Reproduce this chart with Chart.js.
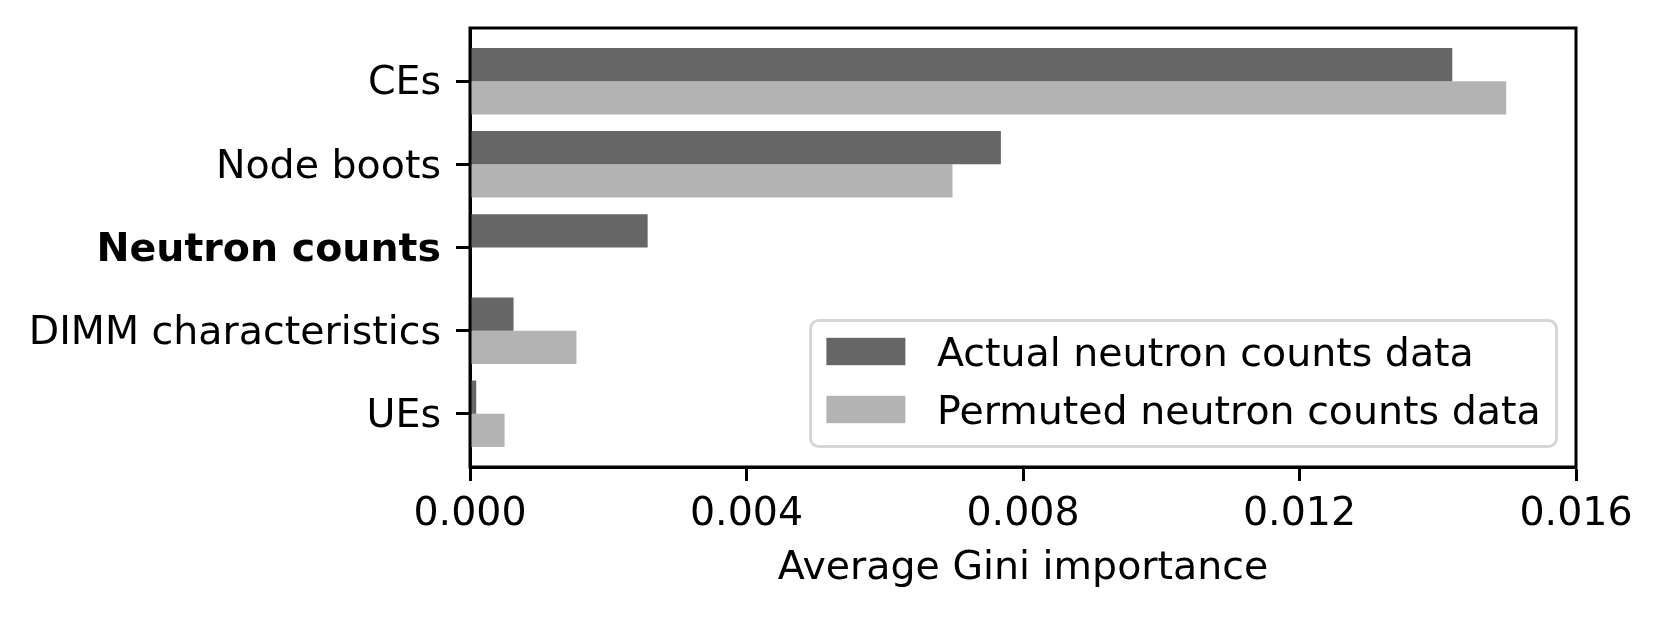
<!DOCTYPE html>
<html>
<head>
<meta charset="utf-8">
<script src="https://cdn.jsdelivr.net/npm/chart.js@4.4.1/dist/chart.umd.min.js"></script>
<style>
  body { margin: 0; background: #fff; }
</style>
</head>
<body>
<canvas id="myChart" width="1661" height="617"></canvas>
<script>
// values
const features = ['CEs', 'Node boots', 'Neutron counts', 'DIMM characteristics', 'UEs'];
const actualData = [0.01421, 0.00768, 0.00257, 0.00063, 0.00009];
const permutedData = [0.01499, 0.00698, 0, 0.00154, 0.00050];
const seriesNames = ['Actual neutron counts data', 'Permuted neutron counts data'];
const seriesColors = ['#666666', '#b3b3b3'];
const xTicks = [0, 0.004, 0.008, 0.012, 0.016];
const xTitle = 'Average Gini importance';
const boldFeature = 'Neutron counts';

const fontSize = 39.5;
const family = "'DejaVu Sans', sans-serif";

Chart.defaults.font.family = family;
Chart.defaults.font.size = fontSize;
Chart.defaults.color = '#000';

// box around the plot area, like the matplotlib spines
const frame = {
  id: 'frame',
  afterDraw(chart) {
    const { ctx, chartArea: a } = chart;
    ctx.save();
    ctx.strokeStyle = '#000';
    ctx.lineWidth = 3;
    ctx.strokeRect(a.left, a.top, a.right - a.left, a.bottom - a.top);
    ctx.restore();
  }
};

// legend in the lower right corner of the axes
const boxLegend = {
  id: 'boxLegend',
  afterDraw(chart) {
    const { ctx, chartArea: a } = chart;
    const sets = chart.data.datasets;
    const pad = 0.4 * fontSize;
    const handle = 2 * fontSize;
    const gap = 0.8 * fontSize;
    const rowStep = 58;
    ctx.save();
    ctx.font = fontSize + 'px ' + family;
    let textW = 0;
    sets.forEach(ds => { textW = Math.max(textW, ctx.measureText(ds.label).width); });
    const w = pad * 2 + handle + gap + textW;
    const h = 126;
    const right = a.right - 19.5;
    const bottom = a.bottom - 20.5;
    const left = right - w;
    const top = bottom - h;

    ctx.beginPath();
    ctx.roundRect(left, top, w, h, 8);
    ctx.fillStyle = 'rgba(255,255,255,0.8)';
    ctx.fill();
    ctx.lineWidth = 3;
    ctx.strokeStyle = '#d6d6d6';
    ctx.stroke();

    sets.forEach((ds, i) => {
      const cy = top + 31 + i * rowStep;
      ctx.fillStyle = ds.backgroundColor;
      ctx.fillRect(left + pad, cy - 13.7, handle, 27.4);
      ctx.fillStyle = '#000';
      ctx.textBaseline = 'alphabetic';
      ctx.textAlign = 'left';
      ctx.fillText(ds.label, left + pad + handle + gap, cy + 14);
    });
    ctx.restore();
  }
};

const tickStyle = {
  drawOnChartArea: false,
  drawTicks: true,
  offset: false,
  tickLength: 14,
  tickWidth: 3,
  tickColor: '#000'
};

new Chart(document.getElementById('myChart'), {
  type: 'bar',
  data: {
    datasets: [
      {
        label: seriesNames[0],
        data: features.map((f, i) => ({ x: actualData[i], y: i })),
        backgroundColor: seriesColors[0],
        borderWidth: 0
      },
      {
        label: seriesNames[1],
        data: features.map((f, i) => ({ x: permutedData[i], y: i })),
        backgroundColor: seriesColors[1],
        borderWidth: 0
      }
    ]
  },
  options: {
    indexAxis: 'y',
    responsive: false,
    animation: false,
    devicePixelRatio: 1,
    categoryPercentage: 0.8,
    barPercentage: 1.0,
    layout: { padding: { top: 28, right: 85, left: 0, bottom: 0 } },
    plugins: {
      legend: { display: false },
      tooltip: { enabled: false }
    },
    scales: {
      x: {
        type: 'linear',
        min: 0,
        max: 0.016,
        offset: false,
        afterBuildTicks: axis => { axis.ticks = xTicks.map(v => ({ value: v })); },
        afterFit: axis => { axis.height = 150; },
        ticks: {
          padding: 10,
          maxRotation: 0,
          callback: v => Number(v).toFixed(3)
        },
        grid: tickStyle,
        border: { display: true, color: '#000', width: 3 },
        title: {
          display: true,
          text: xTitle,
          padding: { top: 0, bottom: 25 }
        }
      },
      y: {
        type: 'linear',
        reverse: true,
        offset: false,
        min: -0.64,
        max: features.length - 1 + 0.64,
        afterBuildTicks: axis => { axis.ticks = features.map((f, i) => ({ value: i })); },
        afterFit: axis => {
          axis.width = 470;
          // labels sit well inside the frame, no extra room needed
          axis.paddingTop = 0;
          axis.paddingBottom = 0;
        },
        ticks: {
          padding: 15,
          labelOffset: 3,
          callback: v => features[v],
          font: ctx => ({
            family: family,
            size: fontSize,
            weight: ctx.tick && features[ctx.tick.value] === boldFeature ? 'bold' : 'normal'
          })
        },
        grid: tickStyle,
        border: { display: true, color: '#000', width: 3 }
      }
    }
  },
  plugins: [frame, boxLegend]
});
</script>
</body>
</html>
